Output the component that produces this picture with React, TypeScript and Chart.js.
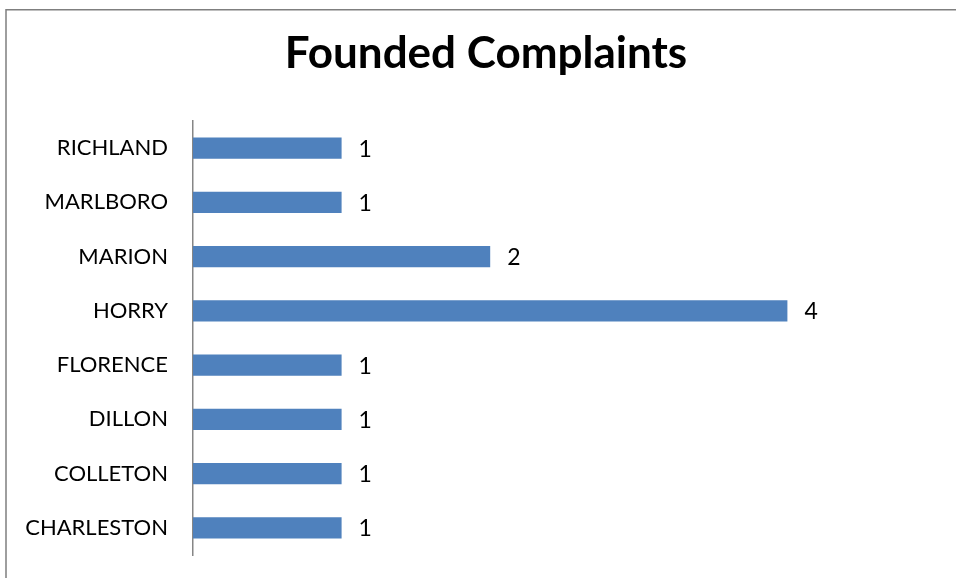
import React, { useEffect, useRef } from "react";
import { Chart, registerables } from "chart.js";

Chart.register(...registerables);

const categories = ["RICHLAND", "MARLBORO", "MARION", "HORRY", "FLORENCE", "DILLON", "COLLETON", "CHARLESTON"];
const values = [1, 1, 2, 4, 1, 1, 1, 1];
const titleText = "Founded Complaints";
const xMin = 0;
const xMax = 5;

const FONT = "Lato, 'Noto Sans', sans-serif";

const framePlugin = {
  id: "frame",
  beforeDraw(chart: any) {
    const { ctx, width, height } = chart;
    ctx.save();
    ctx.fillStyle = "#ffffff";
    ctx.fillRect(0, 0, width, height);
    ctx.strokeStyle = "#7f7f7f";
    ctx.lineWidth = 1.5;
    ctx.beginPath();
    ctx.moveTo(6, height + 5);
    ctx.lineTo(6, 9.75);
    ctx.lineTo(width + 5, 9.75);
    ctx.stroke();
    ctx.restore();
  },
};

const titlePlugin = {
  id: "customTitle",
  afterDraw(chart: any) {
    const { ctx } = chart;
    ctx.save();
    ctx.fillStyle = "#000000";
    ctx.font = `bold 44px ${FONT}`;
    ctx.textAlign = "center";
    ctx.textBaseline = "alphabetic";
    ctx.fillText(titleText, 486, 68);
    ctx.restore();
  },
};

const valueLabelPlugin = {
  id: "valueLabels",
  afterDatasetsDraw(chart: any) {
    const { ctx } = chart;
    const meta = chart.getDatasetMeta(0);
    ctx.save();
    ctx.fillStyle = "#000000";
    ctx.font = `23px ${FONT}`;
    ctx.textAlign = "left";
    ctx.textBaseline = "middle";
    meta.data.forEach((bar: any, i: number) => {
      ctx.fillText(String(values[i]), bar.x + 17, bar.y + 1);
    });
    ctx.restore();
  },
};

export default function App() {
  const ref = useRef<HTMLCanvasElement>(null);
  useEffect(() => {
    document.body.style.margin = "0";
    const chart = new Chart(ref.current!, {
      type: "bar",
      data: {
        labels: categories,
        datasets: [
          {
            data: values,
            backgroundColor: "#4F81BD",
            borderWidth: 0,
            categoryPercentage: 1,
            barPercentage: 0.39,
          },
        ],
      },
      options: {
        indexAxis: "y",
        animation: false,
        responsive: false,
        layout: { padding: { top: 121, right: 20, bottom: 23, left: 0 } },
        plugins: {
          legend: { display: false },
          title: { display: false },
          tooltip: { enabled: false },
        },
        scales: {
          x: {
            display: false,
            min: xMin,
            max: xMax,
          },
          y: {
            grid: { display: false, drawTicks: false },
            border: { display: true, color: "#868686", width: 1.5 },
            ticks: {
              color: "#000000",
              font: { family: FONT, size: 22 },
              padding: 25,
            },
            afterFit(scale: any) {
              scale.width = 193;
              scale.paddingTop = 0;
              scale.paddingBottom = 0;
            },
          },
        },
      },
      plugins: [framePlugin, titlePlugin, valueLabelPlugin],
    });
    return () => chart.destroy();
  }, []);
  return (
    <div style={{ position: "absolute", left: 0, top: 0, width: 956, height: 578 }}>
      <canvas ref={ref} width={956} height={578} style={{ display: "block" }} />
    </div>
  );
}
